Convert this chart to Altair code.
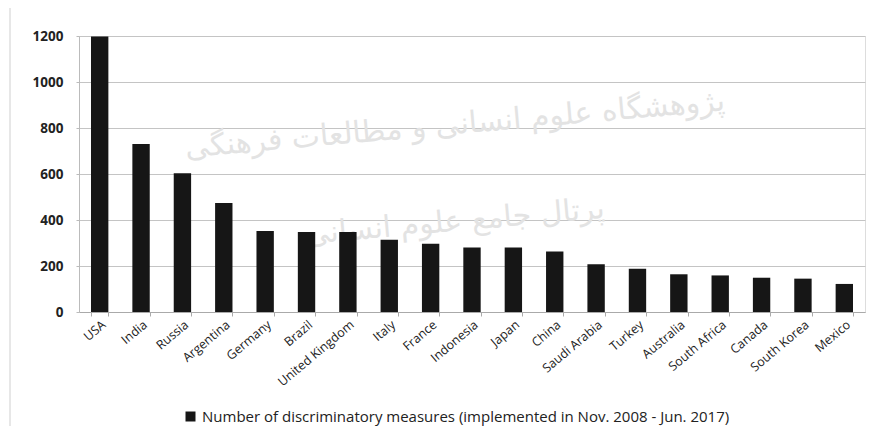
import altair as alt
import pandas as pd

countries = ["USA", "India", "Russia", "Argentina", "Germany", "Brazil",
             "United Kingdom", "Italy", "France", "Indonesia", "Japan", "China",
             "Saudi Arabia", "Turkey", "Australia", "South Africa", "Canada",
             "South Korea", "Mexico"]
values = [1198, 730, 603, 474, 352, 348, 348, 314, 297, 280, 280, 263,
          208, 188, 164, 159, 149, 145, 122]
series_name = "Number of discriminatory measures (implemented in Nov. 2008 - Jun. 2017)"
y_ticks = [0, 200, 400, 600, 800, 1000, 1200]
watermark_lines = ["پژوهشگاه علوم انسانی و مطالعات فرهنگی", "پرتال جامع علوم انسانی"]

df = pd.DataFrame({"country": countries, "value": values, "series": series_name})
wm = pd.DataFrame({"text": watermark_lines, "row": [0, 1]})

W, H = 786, 276

watermark = alt.Chart(wm).mark_text(
    font="DejaVu Sans", fontSize=30, color="#e3e3e3", angle=355
).encode(
    text="text:N",
    x=alt.value(376),
    y=alt.Y("row:Q", scale=alt.Scale(domain=[0, 1], range=[89, 186]), axis=None),
)

frame = alt.Chart(df.head(1)).mark_rule(color="#cfcfcf", strokeWidth=1).encode(
    x=alt.value(-69), y=alt.value(-36), y2=alt.value(400)
)

bars = alt.Chart(df).mark_bar().encode(
    x=alt.X("country:N", sort=countries,
            scale=alt.Scale(paddingInner=0.58, paddingOuter=0.29),
            axis=alt.Axis(title=None, labelAngle=-40, labelFontSize=12.5,
                          labelColor="#222222", labelFont="Open Sans",
                          tickBand="extent", tickSize=4, tickColor="#aaaaaa",
                          domainColor="#aaaaaa", grid=False, labelPadding=2)),
    y=alt.Y("value:Q", scale=alt.Scale(domain=[0, 1200], nice=False),
            axis=alt.Axis(values=y_ticks, title=None, grid=True, format="d",
                          gridColor="#c4c4c4", domainColor="#bbbbbb",
                          tickSize=3, tickColor="#bbbbbb", labelFontSize=13.5,
                          labelFontWeight="bold", labelColor="#222222",
                          labelFont="Open Sans", labelPadding=13)),
    color=alt.Color("series:N", scale=alt.Scale(range=["#161616"]),
                    legend=alt.Legend(title=None, orient="none", legendX=104,
                                      legendY=373, symbolType="square",
                                      symbolSize=100, labelFontSize=15,
                                      labelFont="Open Sans", labelColor="#222222",
                                      labelLimit=800, symbolStrokeWidth=0)),
)

chart = alt.layer(watermark, frame, bars).resolve_scale(y="independent").properties(
    width=W, height=H,
    autosize=alt.AutoSizeParams(type="none"),
    padding={"left": 71, "top": 28, "right": 9, "bottom": 114},
).configure_view(stroke=None).configure(background="white")

chart.save("out.html", embed_options={"renderer": "svg", "actions": False})
